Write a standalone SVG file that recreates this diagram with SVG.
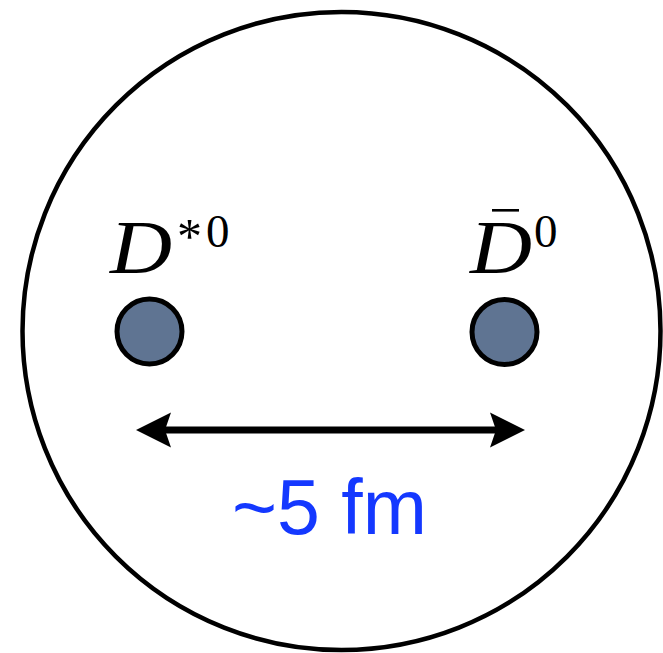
<svg xmlns="http://www.w3.org/2000/svg" width="663" height="653" viewBox="0 0 663 653">
<style>
.ball{fill:#5f7492;stroke:#000;stroke-width:5}
.lab{font-family:"Liberation Serif",serif;fill:#000}
.it{font-style:italic}
</style>
<defs>
<marker id="ah" markerUnits="userSpaceOnUse" markerWidth="40" markerHeight="40" viewBox="0 -20 40 40" refX="7" refY="0" orient="auto-start-reverse">
<path d="M1,-17.5 L36,0 L1,17.5 L7,0 Z" fill="#000"/>
</marker>
</defs>
<rect width="663" height="653" fill="#fff"/>
<g id="region">
<circle cx="341.5" cy="331" r="319" fill="none" stroke="#000" stroke-width="4.5"/>
</g>
<g id="node-dstar">
<circle class="ball" cx="149.5" cy="331.5" r="32.5"/>
<text class="lab it" x="110" y="273" font-size="76" textLength="62" lengthAdjust="spacingAndGlyphs">D</text>
<text class="lab" x="177" y="253" font-size="50">*</text>
<text class="lab" x="206" y="247" font-size="47">0</text>
</g>
<g id="node-dbar">
<circle class="ball" cx="504.5" cy="332" r="32.5"/>
<text class="lab it" x="470" y="273" font-size="76" textLength="62" lengthAdjust="spacingAndGlyphs">D</text>
<rect x="492" y="209" width="27" height="2.6" fill="#000"/>
<text class="lab" x="534" y="247" font-size="47">0</text>
</g>
<g id="connectors">
<line x1="165" y1="430" x2="496" y2="430" stroke="#000" stroke-width="7" marker-start="url(#ah)" marker-end="url(#ah)"/>
</g>
<g id="label-distance">
<text x="232" y="534" font-family="Liberation Sans, sans-serif" font-size="78" fill="#1438ff" textLength="195" lengthAdjust="spacingAndGlyphs">~5 fm</text>
</g>
</svg>
